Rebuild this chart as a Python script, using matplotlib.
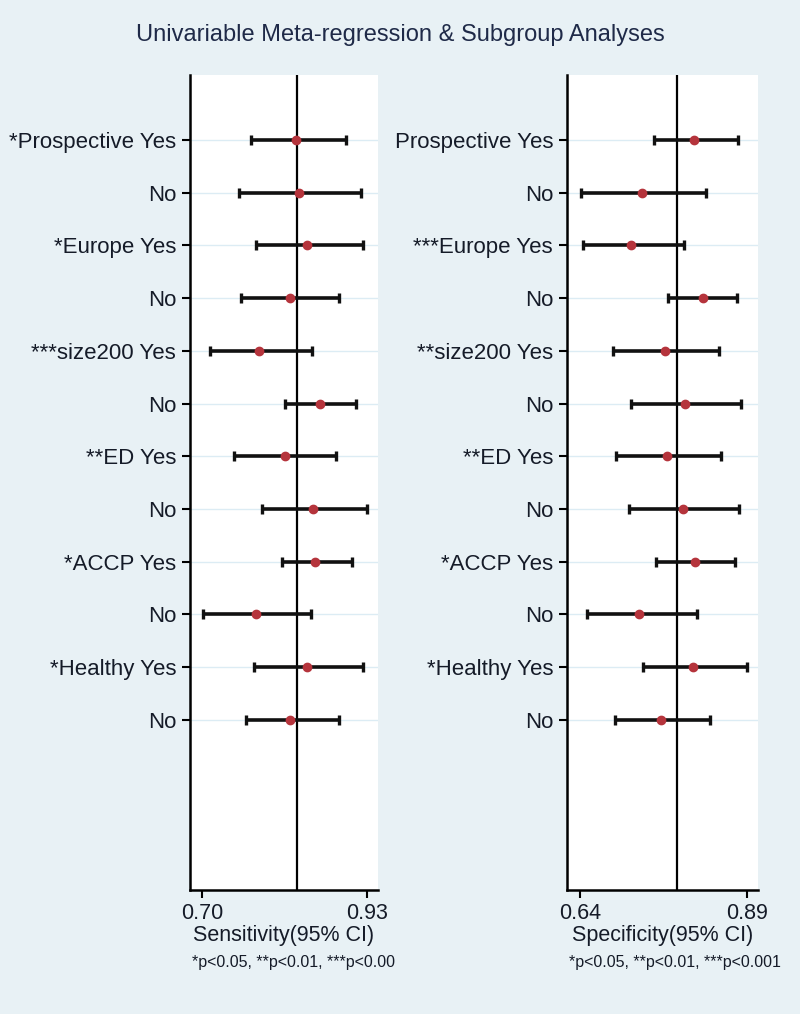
import matplotlib
matplotlib.use("Agg")
import matplotlib.pyplot as plt
import numpy as np

plt.rcParams['font.family'] = ['Liberation Sans', 'DejaVu Sans']

# ---- data ----
sens_labels = ["*Prospective Yes", "No", "*Europe Yes", "No", "***size200 Yes", "No",
               "**ED Yes", "No", "*ACCP Yes", "No", "*Healthy Yes", "No"]
sens_est = [0.831, 0.835, 0.847, 0.823, 0.780, 0.865, 0.816, 0.855, 0.858, 0.775, 0.847, 0.823]
sens_lo  = [0.769, 0.752, 0.776, 0.754, 0.711, 0.816, 0.745, 0.784, 0.811, 0.701, 0.773, 0.761]
sens_hi  = [0.901, 0.921, 0.924, 0.891, 0.853, 0.915, 0.887, 0.930, 0.909, 0.852, 0.924, 0.891]
sens_pooled = 0.8325
sens_ticks = [0.70, 0.93]

spec_labels = ["Prospective Yes", "No", "***Europe Yes", "No", "**size200 Yes", "No",
               "**ED Yes", "No", "*ACCP Yes", "No", "*Healthy Yes", "No"]
spec_est = [0.811, 0.733, 0.716, 0.824, 0.767, 0.797, 0.770, 0.794, 0.813, 0.729, 0.810, 0.762]
spec_lo  = [0.751, 0.641, 0.644, 0.772, 0.690, 0.717, 0.694, 0.714, 0.754, 0.650, 0.734, 0.693]
spec_hi  = [0.877, 0.829, 0.796, 0.875, 0.848, 0.881, 0.851, 0.878, 0.873, 0.815, 0.890, 0.835]
spec_pooled = 0.785
spec_ticks = [0.64, 0.89]

title = "Univariable Meta-regression & Subgroup Analyses"
sens_xlabel = "Sensitivity(95% CI)"
spec_xlabel = "Specificity(95% CI)"
sens_note = "*p<0.05, **p<0.01, ***p<0.00"
spec_note = "*p<0.05, **p<0.01, ***p<0.001"

BG = '#e8f1f5'
TXT = '#151b28'
fig = plt.figure(figsize=(8, 10.14), dpi=100, facecolor=BG)

fig.text(0.5, 1 - 35/1014, title, ha='center', va='center', fontsize=17,
         color='#1f2a48')

def panel(rect, labels, est, lo, hi, pooled, ticks, xlim, xlabel, note):
    ax = fig.add_axes(rect)
    ax.set_facecolor('white')
    n = len(labels)
    y = -np.arange(n)
    for yy in y:
        ax.axhline(yy, color='#dcecf4', lw=1.0, zorder=1)
    ax.axvline(pooled, color='black', lw=1.6, zorder=2)
    est = np.array(est); lo = np.array(lo); hi = np.array(hi)
    ax.errorbar(est, y, xerr=[est - lo, hi - est], fmt='none', ecolor='#111111',
                elinewidth=2.6, capsize=3.5, capthick=2.4, zorder=3)
    ax.plot(est, y, 'o', color='#b5343c', ms=6, mec='#b5343c', zorder=4)
    ax.set_ylim(-14.23, 1.233)
    ax.set_xlim(*xlim)
    ax.set_yticks(y)
    ax.set_yticklabels(labels, fontsize=16, color=TXT)
    ax.set_xticks(ticks)
    ax.set_xticklabels([])
    ax.tick_params(axis='y', length=6, width=1.5, pad=4)
    ax.tick_params(axis='x', length=6, width=1.5)
    for s in ['top', 'right']:
        ax.spines[s].set_visible(False)
    for s in ['left', 'bottom']:
        ax.spines[s].set_linewidth(1.8)
    # tick labels sit just above the axis title, as in the reference
    for t in ticks:
        ax.text(t, -0.0165, f"{t:.2f}", transform=ax.get_xaxis_transform(),
                ha='center', va='top', fontsize=15.5, color=TXT)
    ax.text(0.5, -0.0425, xlabel, transform=ax.transAxes, ha='center', va='top',
            fontsize=15.5, color=TXT)
    ax.text(0.01, -0.080, note, transform=ax.transAxes, ha='left', va='top',
            fontsize=11.5, color=TXT)
    return ax

H = 1014.0
bottom = 1 - 890/H
height = (890 - 75)/H
panel([190/800, bottom, 188/800, height], sens_labels, sens_est, sens_lo, sens_hi,
      sens_pooled, sens_ticks, (0.6835, 0.9453), sens_xlabel, sens_note)
panel([567/800, bottom, 191/800, height], spec_labels, spec_est, spec_lo, spec_hi,
      spec_pooled, spec_ticks, (0.6205, 0.907), spec_xlabel, spec_note)

fig.savefig('out.png', dpi=100, facecolor=BG)
